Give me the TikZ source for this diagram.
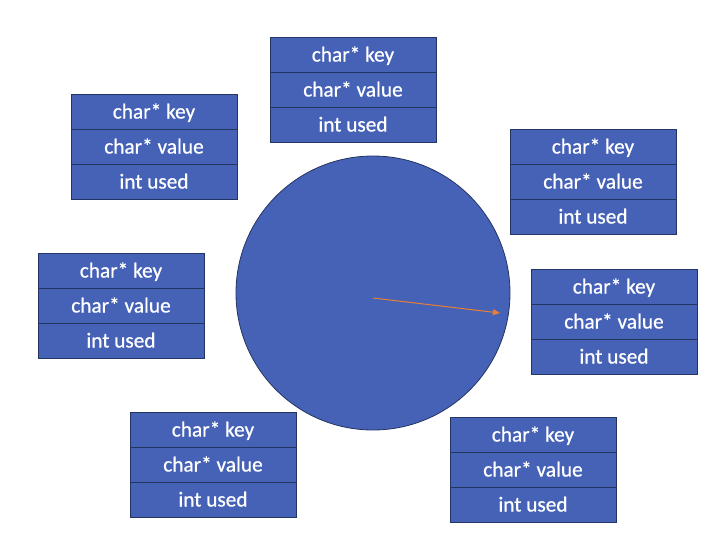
\documentclass[tikz,border=0pt]{standalone}
\usepackage{fontspec}
\setmainfont{Carlito}
\newfontfamily\slotfont[FakeBold=0.7]{Carlito}
\usetikzlibrary{positioning,arrows.meta}

\definecolor{slotblue}{HTML}{4662B7}
\definecolor{slotedge}{HTML}{243562}
\definecolor{handorange}{HTML}{ED7D31}

\tikzset{
  field/.style={draw=slotedge, fill=slotblue, text=white, line width=0.9pt,
    minimum width=166pt, minimum height=35pt, inner sep=0pt, outer sep=0pt,
    text height=16pt, text depth=2pt, font=\slotfont\fontsize{21.3}{25}\selectfont},
  wheel/.style={circle, draw=slotedge, fill=slotblue, line width=0.8pt,
    minimum size=274pt, inner sep=0pt}
}

% one hash table entry, top left corner at (#2,#3)
\newcommand{\slotrec}[3]{%
  \node[field, anchor=north west] (#1_key) at (#2,#3) {char* key};
  \node[field, below=0pt of #1_key] (#1_val) {char* value};
  \node[field, below=0pt of #1_val] (#1_used) {int used};
}

\begin{document}
\begin{tikzpicture}[x=1pt,y=-1pt]
   \useasboundingbox (0,0) rectangle (724,558);
   \node[wheel] (table) at (373,293) {};
   \slotrec{s_1}{270}{37}
   \slotrec{s_2}{71}{94}
   \slotrec{s_3}{510}{129}
   \slotrec{s_4}{38}{253}
   \slotrec{s_5}{531}{269}
   \slotrec{s_6}{130}{412}
   \slotrec{s_7}{450}{417}
   \coordinate (hand) at (373,298);
   \coordinate (hand_tip) at (500,313);
   \draw[handorange, line width=1pt, -{Triangle[length=7pt,width=6pt]}] (hand) -- (hand_tip);
\end{tikzpicture}
\end{document}
